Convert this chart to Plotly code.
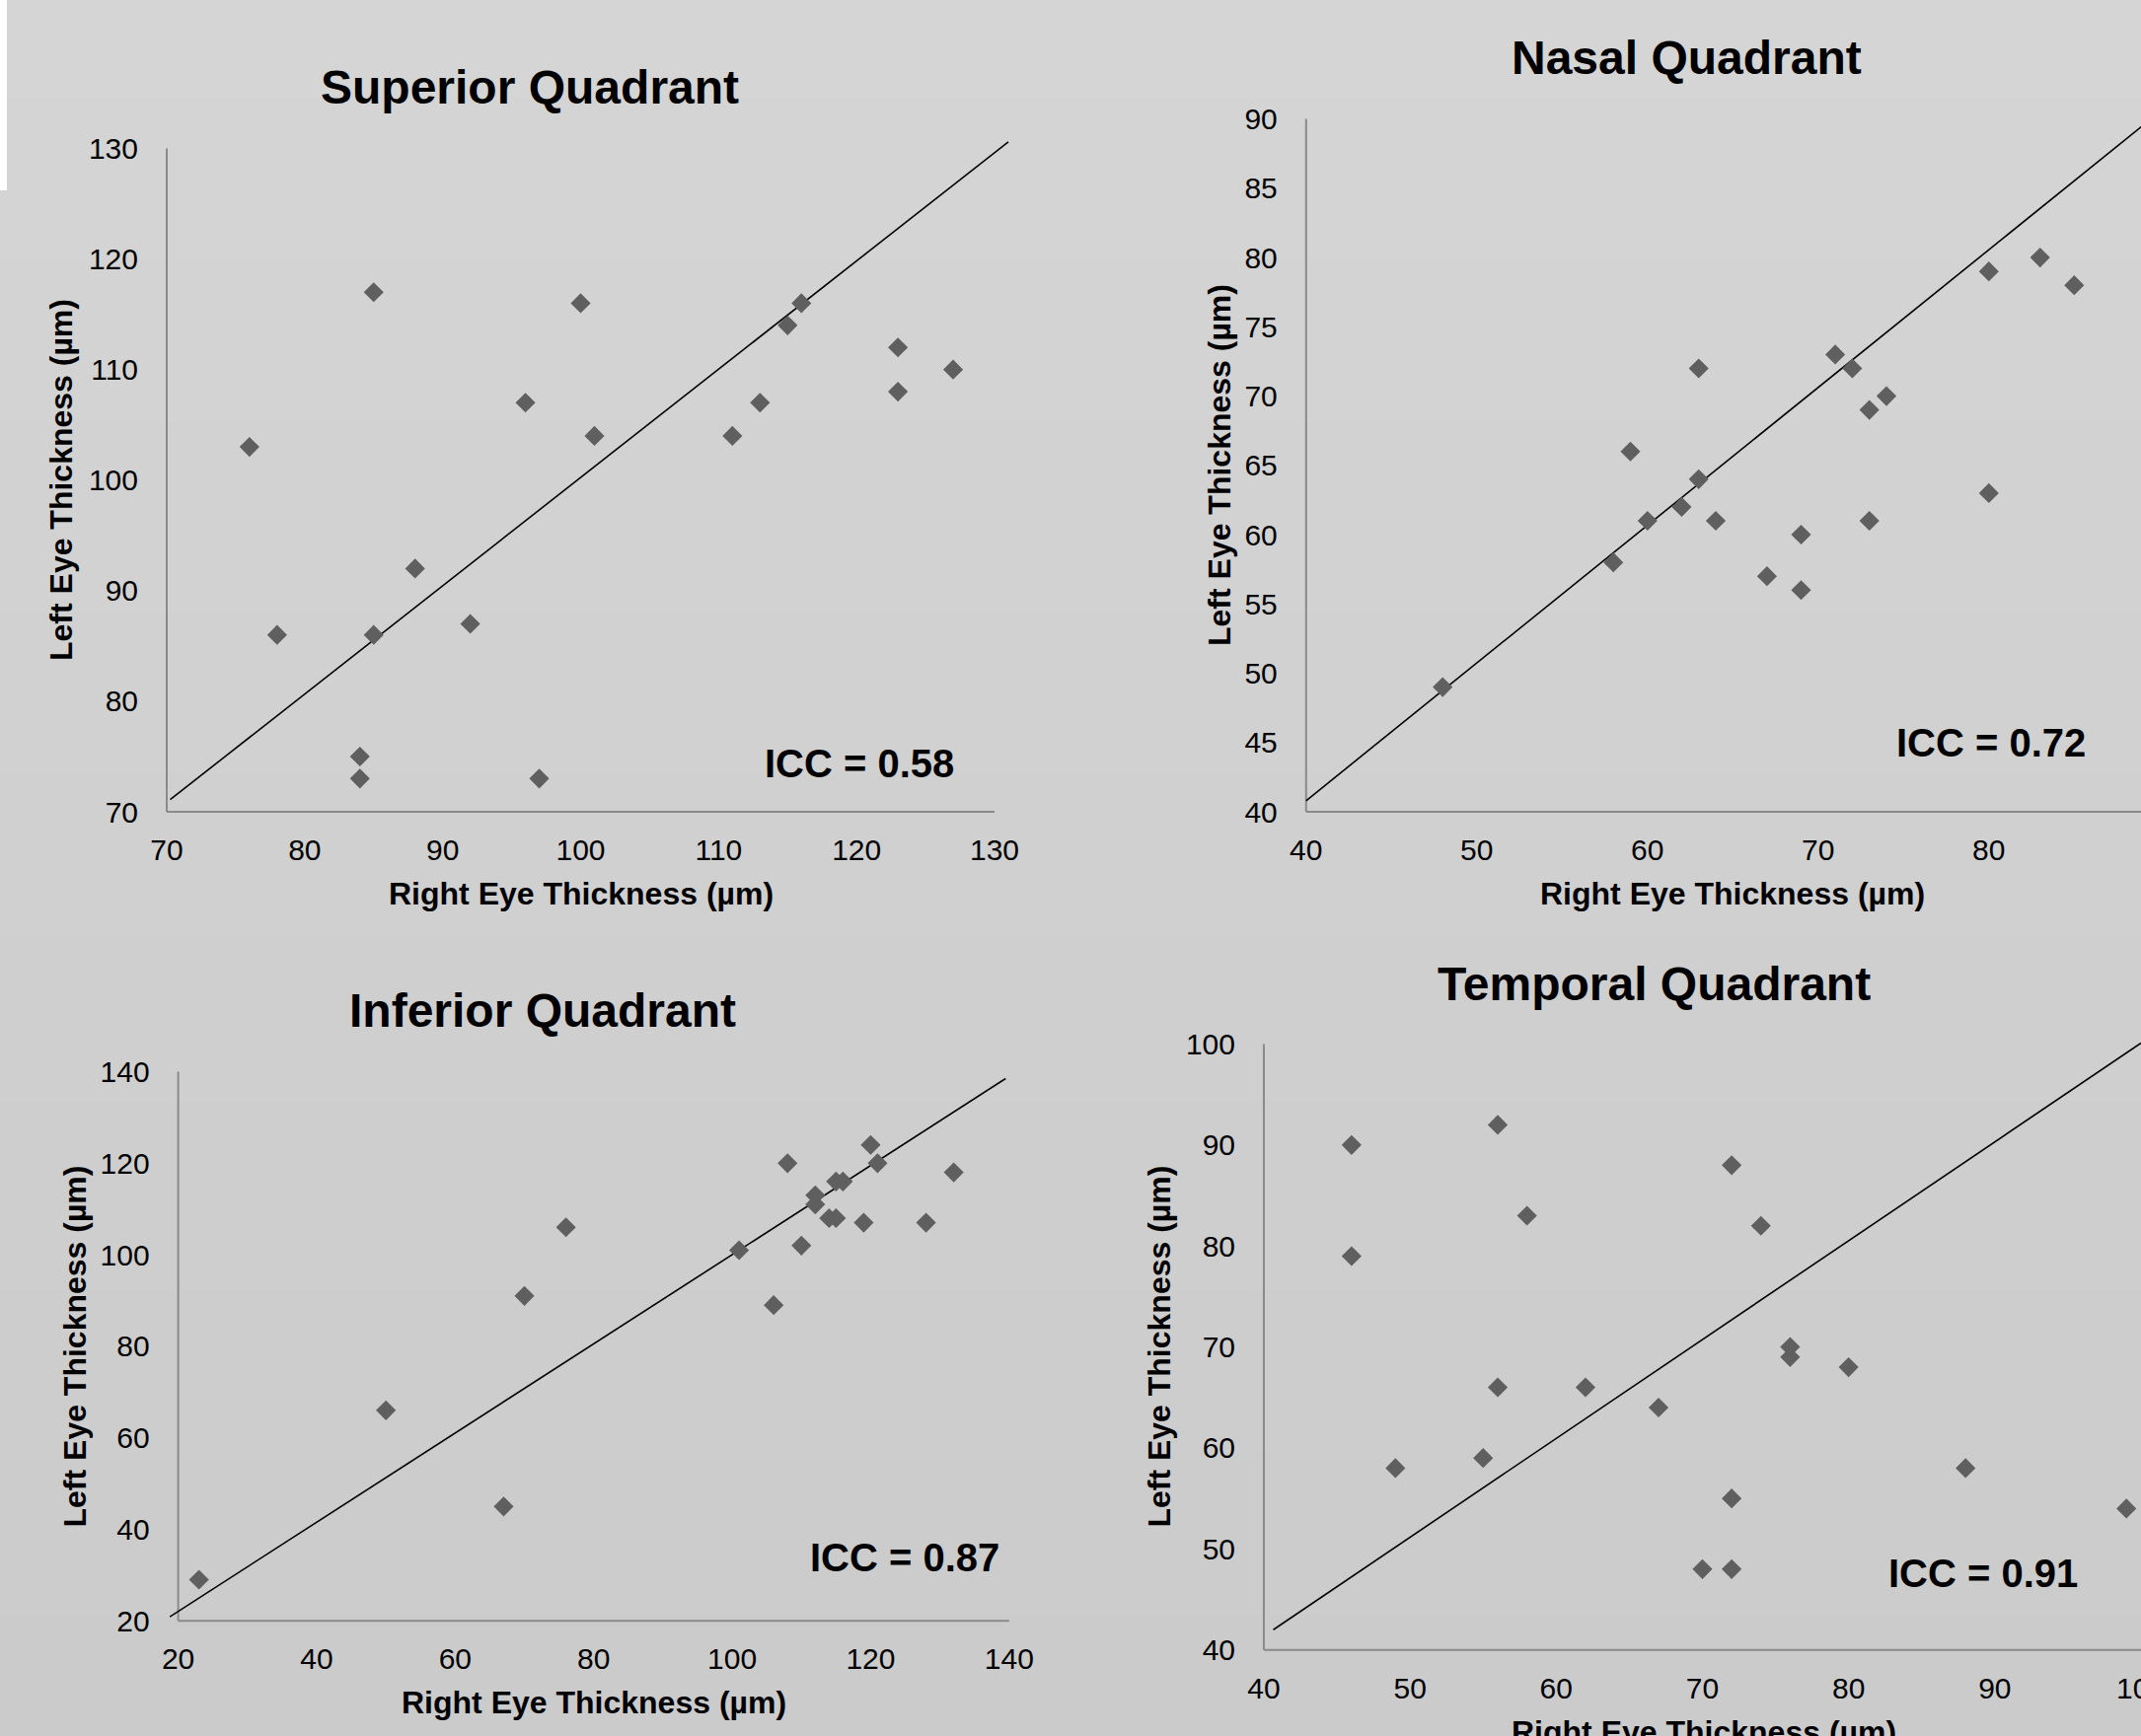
import base64
import struct
import zlib
import plotly.graph_objects as go

W, H = 2170, 1760

# ---------------- data ----------------
panel_titles = ["Superior Quadrant", "Nasal Quadrant", "Inferior Quadrant", "Temporal Quadrant"]
icc_labels = ["ICC = 0.58", "ICC = 0.72", "ICC = 0.87", "ICC = 0.91"]
x_title = "Right Eye Thickness (µm)"
y_title = "Left Eye Thickness (µm)"

sup_right = [76, 78, 85, 85, 84, 84, 88, 92, 96, 97, 100, 101, 111, 113, 115, 116, 123, 123, 127]
sup_left = [103, 86, 117, 86, 75, 73, 92, 87, 107, 73, 116, 104, 104, 107, 114, 116, 112, 108, 110]

nas_right = [48, 58, 59, 60, 62, 63, 63, 64, 67, 69, 69, 71, 72, 73, 74, 73, 80, 80, 83, 85]
nas_left = [49, 58, 66, 61, 62, 72, 64, 61, 57, 60, 56, 73, 72, 69, 70, 61, 79, 63, 80, 78]

inf_right = [23, 50, 67, 70, 76, 101, 106, 108, 110, 112, 112, 114, 115, 115, 116, 119, 120, 121, 128, 132]
inf_left = [29, 66, 45, 91, 106, 101, 89, 120, 102, 113, 111, 108, 108, 116, 116, 107, 124, 120, 107, 118]

tem_right = [46, 46, 49, 55, 56, 56, 58, 62, 67, 70, 72, 72, 72, 74, 76, 76, 80, 88, 99]
tem_left = [90, 79, 58, 59, 92, 66, 83, 66, 64, 48, 88, 55, 48, 82, 70, 69, 68, 58, 54]

# reference (agreement) lines: endpoints in data units
sup_line_x, sup_line_y = [70.25, 131.0], [71.1, 130.6]
nas_line_x, nas_line_y = [40.0, 90.0], [40.8, 90.5]
inf_line_x, inf_line_y = [18.8, 139.5], [20.9, 138.5]
tem_line_x, tem_line_y = [40.65, 100.0], [42.0, 100.1]

# axis tick ranges (lo, hi, step)
sup_xticks, sup_yticks = (70, 130, 10), (70, 130, 10)
nas_xticks, nas_yticks = (40, 90, 10), (40, 90, 5)
inf_xticks, inf_yticks = (20, 140, 20), (20, 140, 20)
tem_xticks, tem_yticks = (40, 100, 10), (40, 100, 10)

# ---------------- layout (pixel geometry) ----------------
panels = [
    dict(x=sup_right, y=sup_left, lx=sup_line_x, ly=sup_line_y, xt=sup_xticks, yt=sup_yticks,
         xa=(70, 169, 130, 1008), ya=(70, 823, 130, 150.5), xr=(69, 131.5), yr=(69, 131),
         title=(537, 88), xtitle=(588.5, 906), ytitle=(62, 487), icc=(871, 774)),
    dict(x=nas_right, y=nas_left, lx=nas_line_x, ly=nas_line_y, xt=nas_xticks, yt=nas_yticks,
         xa=(40, 1323.8, 80, 2015.8), ya=(40, 823, 90, 120.6), xr=(39, None), yr=(39, 91),
         title=(1709.6, 58), xtitle=(1756.3, 906.5), ytitle=(1236, 472), icc=(2017.5, 753)),
    dict(x=inf_right, y=inf_left, lx=inf_line_x, ly=inf_line_y, xt=inf_xticks, yt=inf_yticks,
         xa=(20, 180.6, 140, 1022.8), ya=(20, 1643.3, 140, 1086.5), xr=(18, 141), yr=(19, 142),
         title=(550, 1024), xtitle=(601.7, 1726), ytitle=(75.5, 1365), icc=(917, 1579)),
    dict(x=tem_right, y=tem_left, lx=tem_line_x, ly=tem_line_y, xt=tem_xticks, yt=tem_yticks,
         xa=(40, 1281, 100, 2172), ya=(40, 1672.7, 100, 1058.5), xr=(39, 100), yr=(39, 101),
         title=(1676, 997), xtitle=(1727, 1755.7), ytitle=(1175, 1365.6), icc=(2010, 1594.7)),
]

FONT = "Liberation Sans, Arial, Helvetica, sans-serif"
MARKER_COLOR = "#5f5f5f"
AXIS_COLOR = "#8a8a8a"


def gray_png(top, bottom, n=64):
    rows = b"".join(b"\x00" + bytes([round(top + (bottom - top) * i / (n - 1))]) for i in range(n))

    def chunk(t, d):
        c = struct.pack(">I", len(d)) + t + d
        return c + struct.pack(">I", zlib.crc32(t + d) & 0xFFFFFFFF)

    png = (b"\x89PNG\r\n\x1a\n"
           + chunk(b"IHDR", struct.pack(">IIBBBBB", 1, n, 8, 0, 0, 0, 0))
           + chunk(b"IDAT", zlib.compress(rows))
           + chunk(b"IEND", b""))
    return "data:image/png;base64," + base64.b64encode(png).decode()


def px(v, a):
    v0, p0, v1, p1 = a
    return p0 + (v - v0) * (p1 - p0) / (v1 - v0)


def val(p, a):
    v0, p0, v1, p1 = a
    return v0 + (p - p0) * (v1 - v0) / (p1 - p0)


fig = go.Figure()
annotations = []
shapes = []
layout_axes = {}

for i, P in enumerate(panels, start=1):
    sx = "" if i == 1 else str(i)
    xa, ya = P["xa"], P["ya"]
    r0, r1 = P["xr"]
    if r1 is None or px(r1, xa) > W:
        r1 = val(W, xa)
    xdom = [max(0.0, px(r0, xa) / W), min(1.0, px(r1, xa) / W)]
    yr0, yr1 = P["yr"]
    ydom = [1 - px(yr0, ya) / H, 1 - px(yr1, ya) / H]
    xlo, xhi, xst = P["xt"]
    ylo, yhi, yst = P["yt"]
    # keep the cut-off last tick of the temporal x axis (drawn half outside the page)
    xtickvals = [v for v in range(xlo, xhi + 1, xst) if v <= r1 + 0.5]
    xr_end = max(r1, xtickvals[-1]) if xtickvals[-1] - r1 < 0.5 else r1

    layout_axes["xaxis" + sx] = dict(
        domain=xdom, range=[r0, xr_end], anchor="free", position=1 - px(ylo, ya) / H,
        tickmode="array", tickvals=xtickvals, automargin=False,
        ticks="", showgrid=False, zeroline=False, showline=False,
        tickfont=dict(family=FONT, size=30, color="#000000"),
        ticklabelstandoff=18, ticklabeloverflow="allow", fixedrange=True,
    )
    layout_axes["yaxis" + sx] = dict(
        domain=ydom, range=[yr0, yr1], anchor="free", position=px(xlo, xa) / W,
        tickmode="array", tickvals=list(range(ylo, yhi + 1, yst)), automargin=False,
        ticks="", showgrid=False, zeroline=False, showline=False,
        tickfont=dict(family=FONT, size=30, color="#000000"),
        ticklabelstandoff=29, ticklabeloverflow="allow", fixedrange=True,
    )

    xref, yref = "x" + sx, "y" + sx
    shapes.append(dict(type="line", xref=xref, yref=yref, x0=xlo, x1=xhi, y0=ylo, y1=ylo,
                       line=dict(color=AXIS_COLOR, width=2), layer="below"))
    shapes.append(dict(type="line", xref=xref, yref=yref, x0=xlo, x1=xlo, y0=ylo, y1=yhi,
                       line=dict(color=AXIS_COLOR, width=2), layer="below"))

    fig.add_trace(go.Scatter(x=P["lx"], y=P["ly"], mode="lines", xaxis=xref, yaxis=yref,
                             line=dict(color="#000000", width=1.6), hoverinfo="skip",
                             showlegend=False))
    fig.add_trace(go.Scatter(x=P["x"], y=P["y"], mode="markers", xaxis=xref, yaxis=yref,
                             marker=dict(symbol="diamond", size=15.5, color=MARKER_COLOR,
                                         line=dict(width=0)),
                             showlegend=False))

    def ann(text, pos, size, angle=0):
        annotations.append(dict(text=text, x=pos[0] / W, y=1 - pos[1] / H, xref="paper", yref="paper",
                                xanchor="center", yanchor="middle", showarrow=False, textangle=angle,
                                font=dict(family=FONT, size=size, color="#000000")))

    ann("<b>%s</b>" % panel_titles[i - 1], P["title"], 48)
    ann("<b>%s</b>" % x_title, P["xtitle"], 32)
    ann("<b>%s</b>" % y_title, P["ytitle"], 32, -90)
    ann("<b>%s</b>" % icc_labels[i - 1], P["icc"], 40)

shapes.append(dict(type="rect", xref="paper", yref="paper", x0=0, x1=7 / W, y0=1 - 193 / H, y1=1,
                   fillcolor="#ffffff", line=dict(width=0), layer="below"))

fig.update_layout(
    width=W, height=H, margin=dict(l=0, r=0, t=0, b=0, pad=0, autoexpand=False),
    paper_bgcolor="#d0d0d0", plot_bgcolor="rgba(0,0,0,0)",
    showlegend=False, annotations=annotations, shapes=shapes,
    images=[dict(source=gray_png(213, 203), xref="paper", yref="paper", x=0, y=1,
                 sizex=1, sizey=1, sizing="stretch", layer="below", xanchor="left", yanchor="top")],
    **layout_axes,
)

fig.write_html(
    "out.html",
    config={"displayModeBar": False},
    post_script="document.body.style.margin='0';document.body.style.padding='0';"
                "document.body.style.overflow='hidden';",
)
